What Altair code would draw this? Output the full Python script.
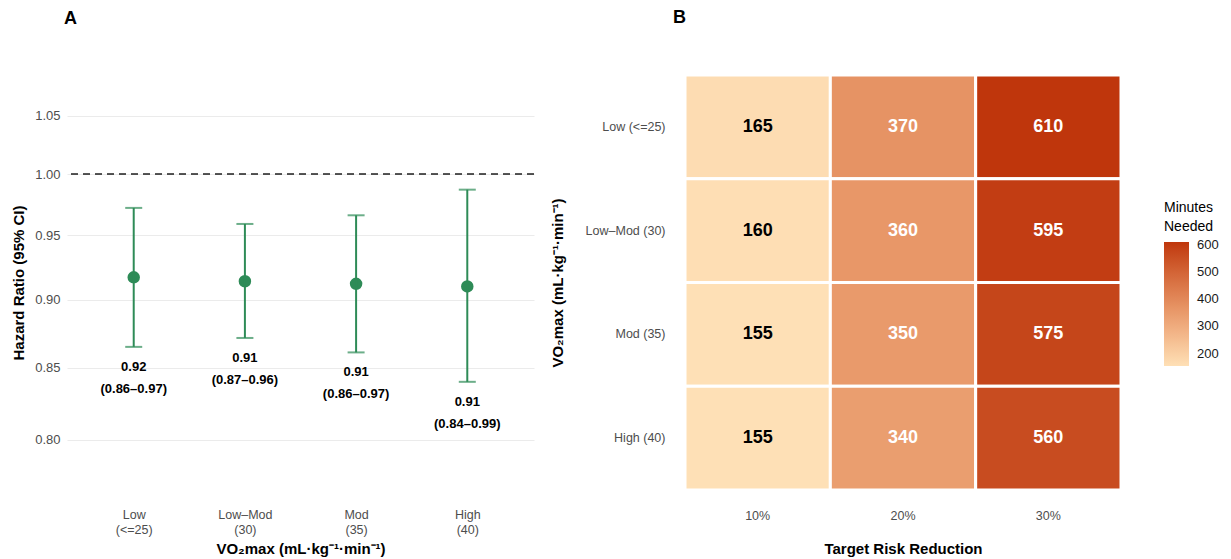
import altair as alt
import pandas as pd

# ---------------- data ----------------
groups = ["Low (<=25)", "Low–Mod (30)", "Mod (35)", "High (40)"]
hr_point = [0.917, 0.914, 0.912, 0.910]
hr_lower = [0.865, 0.8715, 0.861, 0.840]
hr_upper = [0.972, 0.959, 0.966, 0.987]
hr_text = ["0.92\n(0.86–0.97)", "0.91\n(0.87–0.96)", "0.91\n(0.86–0.97)", "0.91\n(0.84–0.99)"]

reductions = ["10%", "20%", "30%"]
minutes_low = [165, 370, 610]
minutes_lowmod = [160, 360, 595]
minutes_mod = [155, 350, 575]
minutes_high = [155, 340, 560]

y_ticks = [0.80, 0.85, 0.90, 0.95, 1.00, 1.05]
legend_ticks = [200, 300, 400, 500, 600]

GREEN = "#2E8B57"
FONT = "Liberation Sans"

df_a = pd.DataFrame({"group": groups, "hr": hr_point, "lo": hr_lower,
                     "hi": hr_upper, "lab": hr_text})

rows = []
for g, vals in zip(groups, [minutes_low, minutes_lowmod, minutes_mod, minutes_high]):
    for r, v in zip(reductions, vals):
        rows.append({"group": g, "reduction": r, "minutes": v})
df_b = pd.DataFrame(rows)

# ---------------- panel A ----------------
x_a = alt.X("group:N", sort=groups,
            scale=alt.Scale(type="point", padding=0.6),
            axis=alt.Axis(title="VO₂max (mL·kg⁻¹·min⁻¹)", labelAngle=0,
                          labelExpr="split(datum.label, ' ')",
                          labelLineHeight=15, labelPadding=18,
                          ticks=False, domain=False, grid=False,
                          labelColor="#4D4D4D", labelFontSize=12.5,
                          titleFontSize=15, titleFontWeight="bold",
                          titlePadding=6, titleColor="black"))
y_scale = alt.Scale(type="log", domain=[0.7671, 1.0867], nice=False, zero=False)
y_a = alt.Y("hr:Q", scale=y_scale,
            axis=alt.Axis(title="Hazard Ratio (95% CI)", values=y_ticks, format=".2f",
                          grid=True, gridColor="#EBEBEB", gridWidth=1,
                          ticks=False, domain=False, labelColor="#4D4D4D",
                          labelFontSize=13, labelPadding=7,
                          titleFontSize=15, titleFontWeight="bold",
                          titlePadding=8, titleColor="black"))

base_a = alt.Chart(df_a)
ref = base_a.mark_rule(color="#4D4D4D", strokeDash=[7, 5], strokeWidth=1.2).encode(
    y=alt.datum(1.0, scale=y_scale))
bars = base_a.mark_rule(color=GREEN, strokeWidth=2).encode(
    x=x_a, y=alt.Y("lo:Q", scale=y_scale), y2="hi:Q")
cap_lo = base_a.mark_tick(color=GREEN, size=17, thickness=2).encode(
    x=x_a, y=alt.Y("lo:Q", scale=y_scale))
cap_hi = base_a.mark_tick(color=GREEN, size=17, thickness=2).encode(
    x=x_a, y=alt.Y("hi:Q", scale=y_scale))
pts = base_a.mark_point(filled=True, fill=GREEN, stroke="white", strokeWidth=2,
                        size=210, opacity=1).encode(x=x_a, y=y_a)
txt = base_a.mark_text(lineBreak="\n", baseline="top", dy=14, fontSize=13,
                       fontWeight="bold", lineHeight=22, color="black",
                       font=FONT).encode(
    x=x_a, y=alt.Y("lo:Q", scale=y_scale), text="lab:N")

panel_a = alt.layer(pts, ref, bars, cap_lo, cap_hi, txt).properties(
    width=467, height=415,
    title=alt.TitleParams("A", anchor="start", frame="group", fontSize=18,
                          fontWeight="bold", offset=47, dx=-3, color="black"))

# ---------------- panel B ----------------
heat_base = alt.Chart(df_b).encode(
    x=alt.X("reduction:N", sort=reductions,
            scale=alt.Scale(paddingInner=0, paddingOuter=0),
            axis=alt.Axis(title="Target Risk Reduction", labelAngle=0,
                          ticks=False, domain=False, labelPadding=19,
                          labelColor="#4D4D4D", labelFontSize=12.5,
                          titleFontSize=15, titleFontWeight="bold",
                          titlePadding=20, titleColor="black")),
    y=alt.Y("group:N", sort=groups,
            scale=alt.Scale(paddingInner=0, paddingOuter=0),
            axis=alt.Axis(title="VO₂max (mL·kg⁻¹·min⁻¹)", ticks=False,
                          domain=False, labelPadding=20,
                          labelColor="#4D4D4D", labelFontSize=12.5,
                          titleFontSize=15, titleFontWeight="bold",
                          titlePadding=20, titleColor="black")),
)
tiles = heat_base.mark_rect(stroke="white", strokeWidth=3).encode(
    color=alt.Color("minutes:Q",
                    scale=alt.Scale(domain=[155, 610], range=["#FEE0B6", "#BF360C"],
                                    interpolate="lab"),
                    legend=alt.Legend(title=["Minutes", "Needed"], orient="none",
                                      legendX=1097, legendY=126,
                                      values=legend_ticks, gradientLength=124,
                                      gradientThickness=25, gradientStrokeWidth=0,
                                      titleFontSize=14, titleFontWeight="normal",
                                      titleLineHeight=19,
                                      titleColor="black", titlePadding=8,
                                      labelFontSize=13, labelColor="#1A1A1A",
                                      labelOffset=8, tickCount=5)))
vals = heat_base.mark_text(fontSize=18, fontWeight="bold", font=FONT).encode(
    text="minutes:Q",
    color=alt.condition(alt.datum.minutes < 300, alt.value("black"), alt.value("white")))

panel_b = alt.layer(tiles, vals).properties(
    width=436, height=415,
    title=alt.TitleParams("B", anchor="start", frame="group", fontSize=18,
                          fontWeight="bold", offset=47, dx=-12, color="black"))

chart = alt.hconcat(panel_a, panel_b, spacing=15).properties(
    padding={"left": 3, "top": 0, "right": 0, "bottom": 0}
).configure(font=FONT).configure_view(strokeWidth=0, stroke="transparent")

chart.save("out.html", embed_options={"renderer": "svg", "actions": False})
